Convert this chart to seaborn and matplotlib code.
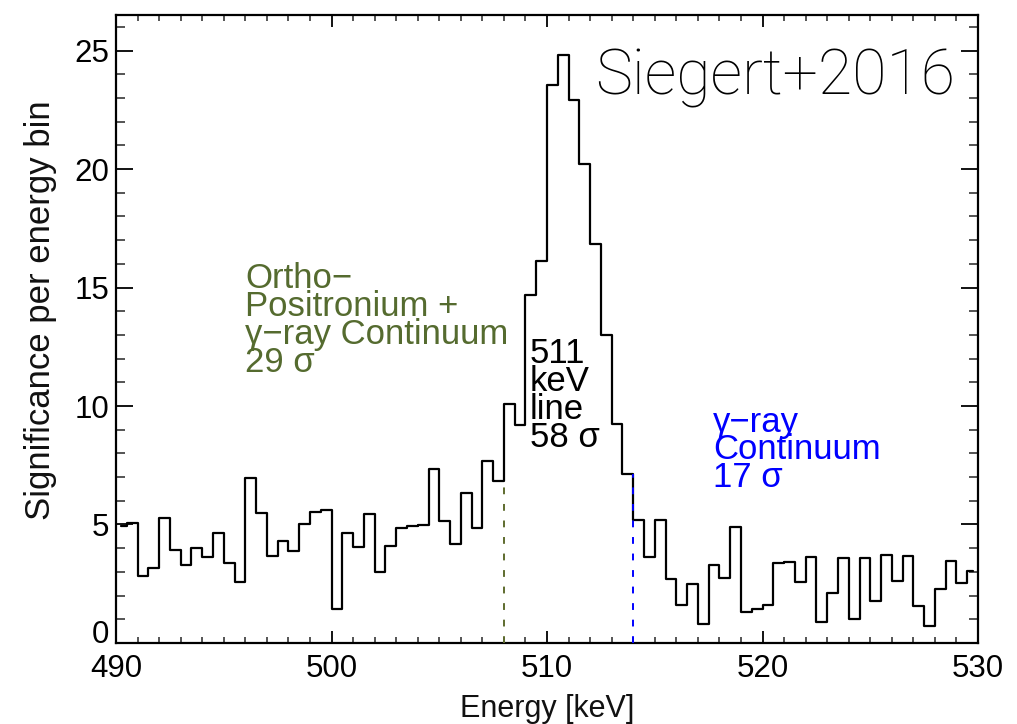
import numpy as np
import pandas as pd
import matplotlib
matplotlib.use("Agg")
import matplotlib.pyplot as plt
import seaborn as sns

# ---- data ----
energy = np.arange(490.25, 530.0, 0.5)  # bin centres [keV]
significance = [
    4.93, 5.07, 2.83, 3.18, 5.29, 3.91, 3.28, 4.01, 3.61, 4.66,
    3.37, 2.58, 6.96, 5.50, 3.65, 4.31, 3.89, 5.01, 5.53, 5.61,
    1.45, 4.65, 4.03, 5.46, 3.00, 4.08, 4.87, 4.93, 4.98, 7.36,
    5.14, 4.18, 6.35, 4.84, 7.69, 6.84, 10.10, 9.20, 14.68, 16.12,
    23.55, 24.82, 22.92, 20.20, 16.85, 13.00, 9.25, 7.15, 5.18, 3.63,
    5.18, 2.68, 1.62, 2.48, 0.82, 3.27, 2.76, 4.90, 1.31, 1.45,
    1.59, 3.39, 3.41, 2.58, 3.63, 0.87, 2.09, 3.59, 1.00, 3.58,
    1.79, 3.72, 2.61, 3.69, 1.58, 0.71, 2.28, 3.46, 2.55, 3.03,
]
x_ticks = [490, 500, 510, 520, 530]
x_ticklabels = ["490", "500", "510", "520", "530"]
y_ticks = [0, 5, 10, 15, 20, 25]
y_ticklabels = ["0", "5", "10", "15", "20", "25"]
line_bounds = [508.0, 514.0]       # integration boundaries
bound_colors = ["#5E6B2E", "#0000FF"]

df = pd.DataFrame({"Energy": energy, "Significance": significance})

sns.set_theme(style="white")
plt.rcParams["font.family"] = ["Liberation Sans", "DejaVu Sans"]

fig = plt.figure(figsize=(10.17, 7.24), dpi=100)
ax = fig.add_axes([0.1141, 0.1119, 0.8476, 0.8674])

sns.lineplot(data=df, x="Energy", y="Significance", ax=ax, color="black",
             linewidth=1.6, drawstyle="steps-mid", sort=True, estimator=None)

# dashed boundary lines from 0 up to the bin left of the boundary
for xb, col in zip(line_bounds, bound_colors):
    idx = int(np.argmin(np.abs(energy - (xb - 0.25))))
    ax.vlines(xb, 0, significance[idx], colors=col, linestyles=(0, (3.5, 5.0)),
              linewidth=1.4, zorder=5)

ax.set_xlim(490, 530)
ax.set_ylim(0, 26.5)
ax.set_xticks(x_ticks, x_ticklabels)
ax.set_yticks(y_ticks, y_ticklabels)
ax.set_xticks(np.arange(490, 531, 1), minor=True)
ax.set_yticks(np.arange(0, 27, 1), minor=True)

ax.tick_params(axis="x", which="major", direction="in", length=8.6, width=1.3,
               top=True, bottom=True, labelsize=22.5, pad=8, colors="black")
ax.tick_params(axis="x", which="minor", direction="in", length=4.3, width=1.1,
               top=True, bottom=True)
ax.tick_params(axis="y", which="major", direction="in", length=12.5, width=1.3,
               left=True, right=True, labelsize=22.5, pad=5, colors="black")
ax.tick_params(axis="y", which="minor", direction="in", length=6.5, width=1.1,
               left=True, right=True)
for lab in ax.get_yticklabels():
    if lab.get_text() == "0":
        lab.set_verticalalignment("baseline")

for sp in ax.spines.values():
    sp.set_visible(True)
    sp.set_color("black")
    sp.set_linewidth(1.6)

ax.set_xlabel("Energy [keV]", fontsize=22, labelpad=7, color="#111111")
ax.set_ylabel("Significance per energy bin", fontsize=25, color="#111111")
ax.yaxis.set_label_coords(-0.068, 0.53)

ax.text(0.973, 0.90, "Siegert+2016", transform=ax.transAxes, ha="right",
        va="center", fontsize=45, family=["Roboto", "DejaVu Sans"],
        fontweight="light", color="black")

ax.text(496.0, 13.6, "Ortho\u2212\nPositronium +\n\u03b3\u2212ray Continuum\n29 \u03c3",
        ha="left", va="center", fontsize=25, color="#556B2F", linespacing=0.8)
ax.text(509.2, 10.45, "511\nkeV\nline\n58 \u03c3",
        ha="left", va="center", fontsize=25, color="black", linespacing=0.8)
ax.text(517.7, 8.15, "\u03b3\u2212ray\nContinuum\n17 \u03c3",
        ha="left", va="center", fontsize=25, color="#0000FF", linespacing=0.8)

fig.savefig("out.png", dpi=100)
